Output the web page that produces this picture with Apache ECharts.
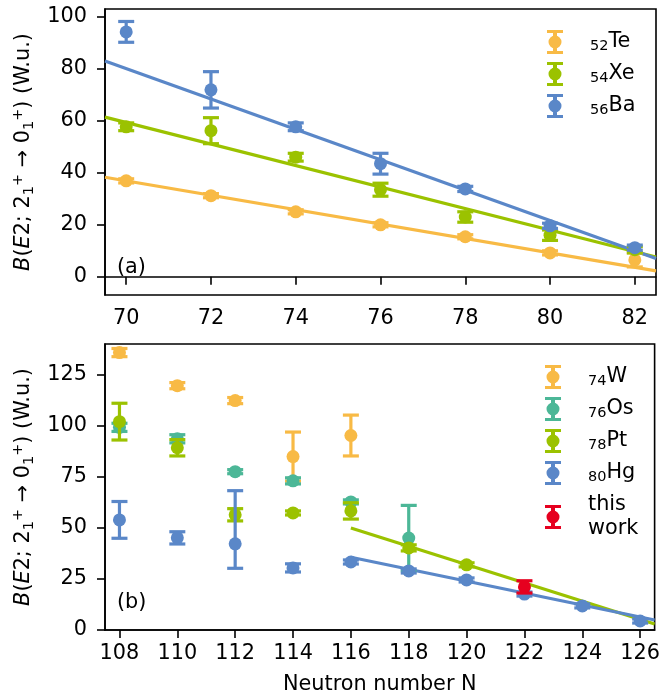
<!DOCTYPE html>
<html><head><meta charset="utf-8">
<script src="https://cdn.jsdelivr.net/npm/echarts@6/dist/echarts.min.js"></script>
<style>html,body{margin:0;padding:0;background:#fff}#c{width:663px;height:698px}</style>
</head><body><div id="c"></div>
<script>
// ---- tick labels ----
const topTicksX = [70, 72, 74, 76, 78, 80, 82];
const topTicksY = [0, 20, 40, 60, 80, 100];
const botTicksX = [108, 110, 112, 114, 116, 118, 120, 122, 124, 126];
const botTicksY = [0, 25, 50, 75, 100, 125];

// ---- panel (a) ----
const teN = [70, 72, 74, 76, 78, 80, 82];
const teB = [36.9, 31.2, 25.0, 20.0, 15.4, 9.2, 6.5];
const teErr = [0.8, 0.8, 0.8, 0.8, 0.8, 0.8, 2.7];
const xeN = [70, 72, 74, 76, 78, 80, 82];
const xeB = [57.7, 56.2, 46.0, 33.5, 23.0, 16.0, 10.4];
const xeErr = [1.5, 5, 1.5, 2.5, 2, 2, 1.2];
const baN = [70, 72, 74, 76, 78, 80, 82];
const baB = [94.2, 71.9, 57.7, 43.5, 33.8, 19.6, 11.2];
const baErr = [4, 7, 1.5, 4, 1, 1, 1];
const topFitN = [69.5, 82.5];
const teFit = [38.3, 2.3];
const xeFit = [61.4, 7.6];
const baFit = [83.0, 7.0];

// ---- panel (b) ----
const wN = [108, 110, 112, 114, 116];
const wB = [135.8, 119.6, 112.3, 84.9, 95.2];
const wErr = [2, 1.5, 1.5, 12, 10];
const osN = [108, 110, 112, 114, 116, 118];
const osB = [99.2, 93.6, 77.5, 73.0, 62.7, 45.0];
const osErr = [2, 2, 1, 1.5, 1, 16];
const ptN = [108, 110, 112, 114, 116, 118, 120];
const ptB = [102, 89.2, 56.4, 57.3, 58.3, 40.2, 31.9];
const ptErr = [9, 4, 3, 1, 4, 1.5, 1];
const hgN = [108, 110, 112, 114, 116, 118, 120, 122, 124, 126];
const hgB = [53.9, 45.1, 42.2, 30.4, 33.3, 28.9, 24.5, 17.6, 11.8, 4.4];
const hgErrDown = [9, 3, 12, 2, 1, 1, 1, 1, 1, 1];
const hgErrUp = [9, 3, 26, 2, 1, 1, 1, 1, 1, 1];
const twN = [122];
const twB = [21.1];
const twErr = [3];
const botFitN = [116, 126.5];
const ptFit = [49.9, 2.9];
const hgFit = [35.6, 4.9];

const C = {te: '#F8BA45', xe: '#9BC200', ba: '#5A87C8', os: '#4CB797', red: '#E6001F'};
const FONT = 'DejaVu Sans';
const FS = 20.8;

function pts(n, b, dn, up) {
  up = up || dn;
  return n.map((x, i) => [x, b[i], b[i] - dn[i], b[i] + up[i]]);
}
function fit(n, b) { return n.map((x, i) => [x, b[i]]); }

function errRender(params, api) {
  const x = api.value(0), y = api.value(1), lo = api.value(2), hi = api.value(3);
  const p = api.coord([x, y]), pl = api.coord([x, lo]), ph = api.coord([x, hi]);
  const color = api.visual('color');
  const cs = {stroke: color, lineWidth: 3.2};
  return {type: 'group', children: [
    {type: 'line', shape: {x1: p[0], y1: pl[1], x2: p[0], y2: ph[1]}, style: cs},
    {type: 'line', shape: {x1: p[0] - 8, y1: pl[1], x2: p[0] + 8, y2: pl[1]}, style: cs},
    {type: 'line', shape: {x1: p[0] - 8, y1: ph[1], x2: p[0] + 8, y2: ph[1]}, style: cs},
    {type: 'circle', shape: {cx: p[0], cy: p[1], r: 6.5}, style: {fill: color}}
  ]};
}
function errSeries(name, idx, data, color, z) {
  return {type: 'custom', name: name, xAxisIndex: idx, yAxisIndex: idx, data: data,
    renderItem: errRender, itemStyle: {color: color}, encode: {x: 0, y: 1}, clip: true, z: z || 3};
}
function fitSeries(idx, data, color) {
  return {type: 'line', xAxisIndex: idx, yAxisIndex: idx, data: data, symbol: 'none',
    lineStyle: {color: color, width: 3.2}, itemStyle: {color: color}, z: 2, silent: true};
}

const yName = '{it|B}({it|E}2; 2{sub|1}{sup|+} → 0{sub|1}{sup|+}) (W.u.)';
const nameStyle = {fontSize: FS, fontFamily: FONT, color: '#000', lineHeight: 26,
  rich: {it: {fontStyle: 'italic', fontSize: FS, fontFamily: FONT, lineHeight: 26},
         sub: {fontSize: 14.5, fontFamily: FONT, lineHeight: 16, verticalAlign: 'bottom'},
         sup: {fontSize: 14.5, fontFamily: FONT, lineHeight: 16, verticalAlign: 'top'}}};

function xAxis(idx, min, max, ticks, name) {
  return {type: 'value', gridIndex: idx, min: min, max: max,
    name: name || '', nameLocation: 'middle', nameGap: 44,
    nameTextStyle: {fontSize: FS, fontFamily: FONT, color: '#000'},
    axisLine: {show: true, lineStyle: {color: '#000', width: 1.6}},
    axisTick: {show: true, length: 8, lineStyle: {color: '#000', width: 1.6}, customValues: ticks},
    axisLabel: {fontSize: FS, fontFamily: FONT, color: '#000', margin: 13, customValues: ticks},
    splitLine: {show: false}};
}
function yAxis(idx, min, max, ticks) {
  return {type: 'value', gridIndex: idx, min: min, max: max,
    name: yName, nameLocation: 'middle', nameGap: 62, nameTextStyle: nameStyle,
    axisLine: {show: true, lineStyle: {color: '#000', width: 1.6}},
    axisTick: {show: true, length: 8, lineStyle: {color: '#000', width: 1.6}, customValues: ticks},
    axisLabel: {fontSize: FS, fontFamily: FONT, color: '#000', margin: 18, customValues: ticks},
    splitLine: {show: false}};
}

const ICON = 'path://M0,0H16V3H0Z M6,3H10V21H6Z M0,21H16V24H0Z M14.5,12A6.5,6.5 0 1,1 1.5,12A6.5,6.5 0 1,1 14.5,12Z';
const legRich = {s: {fontSize: 14.5, fontFamily: FONT, lineHeight: 16, verticalAlign: 'bottom', color: '#000'},
                 n: {fontSize: FS, fontFamily: FONT, lineHeight: 24, color: '#000'}};
function legFmt(name) {
  const m = name.match(/^(\d+)(.*)$/);
  if (m) return '{s|' + m[1] + '}{n|' + m[2] + '}';
  return name.split(' ').map(t => '{n|' + t + '}').join('\n');
}
function legend(data, left, top) {
  return {data: data, orient: 'vertical', left: left, top: top, icon: ICON,
    itemWidth: 16, itemHeight: 24, itemGap: 8, selectedMode: false, formatter: legFmt,
    textStyle: {fontSize: FS, fontFamily: FONT, color: '#000', lineHeight: 24, padding: [0, 0, 0, 22], rich: legRich}};
}

const chart = echarts.init(document.getElementById('c'), null, {renderer: 'canvas'});
chart.setOption({
  animation: false,
  backgroundColor: '#fff',
  grid: [
    {left: 105, top: 9, width: 551, height: 286, show: true, borderColor: '#000', borderWidth: 1.6},
    {left: 105, top: 344, width: 551, height: 286, show: true, borderColor: '#000', borderWidth: 1.6}
  ],
  xAxis: [xAxis(0, 69.5, 82.5, topTicksX), xAxis(1, 107.5, 126.5, botTicksX, 'Neutron number N')],
  yAxis: [yAxis(0, -7, 103, topTicksY), yAxis(1, 0, 140, botTicksY)],
  legend: [
    legend(['52Te', '54Xe', '56Ba'], 542, 25),
    legend(['74W', '76Os', '78Pt', '80Hg', 'this work'], 540, 360)
  ],
  graphic: [
    {type: 'text', left: 117, top: 257, style: {text: '(a)', fontSize: FS, fontFamily: FONT, fill: '#000'}},
    {type: 'text', left: 117, top: 592, style: {text: '(b)', fontSize: FS, fontFamily: FONT, fill: '#000'}}
  ],
  series: [
    fitSeries(0, fit(topFitN, teFit), C.te),
    fitSeries(0, fit(topFitN, xeFit), C.xe),
    fitSeries(0, fit(topFitN, baFit), C.ba),
    errSeries('52Te', 0, pts(teN, teB, teErr), C.te),
    errSeries('54Xe', 0, pts(xeN, xeB, xeErr), C.xe),
    errSeries('56Ba', 0, pts(baN, baB, baErr), C.ba),
    fitSeries(1, fit(botFitN, ptFit), C.xe),
    fitSeries(1, fit(botFitN, hgFit), C.ba),
    errSeries('74W', 1, pts(wN, wB, wErr), C.te),
    errSeries('76Os', 1, pts(osN, osB, osErr), C.os),
    errSeries('78Pt', 1, pts(ptN, ptB, ptErr), C.xe),
    errSeries('80Hg', 1, pts(hgN, hgB, hgErrDown, hgErrUp), C.ba),
    errSeries('this work', 1, pts(twN, twB, twErr), C.red, 4)
  ]
});
</script></body></html>
